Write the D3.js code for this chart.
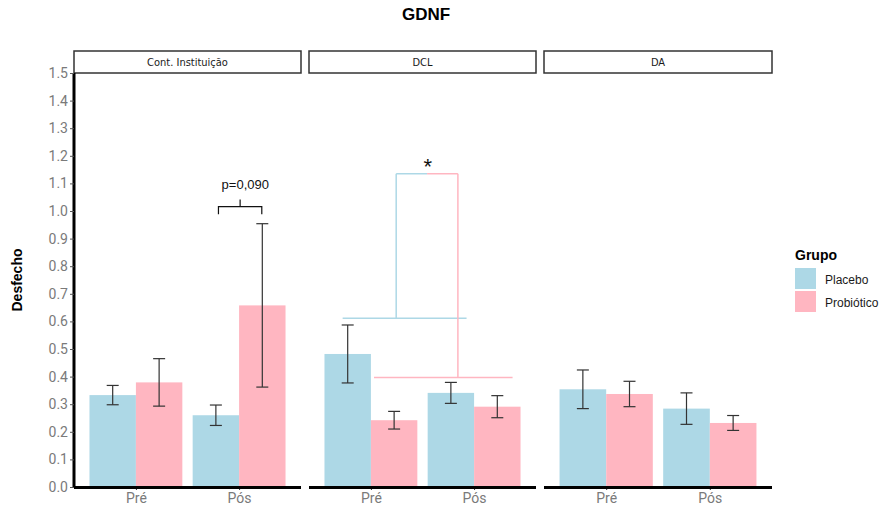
<!DOCTYPE html>
<html><head><meta charset="utf-8">
<script src="https://cdn.jsdelivr.net/npm/d3@7"></script>
<style>body{margin:0;background:#fff}svg{display:block;font-family:"Liberation Sans",Arial,sans-serif}</style>
</head><body><svg id="c" width="882" height="508"></svg>
<script>
const facets = ["Cont. Instituição", "DCL", "DA"];
const times = ["Pré", "Pós"];
const groups = ["Placebo", "Probiótico"];
const colors = ["#ADD8E6", "#FFB6C1"];
// order: facet x time
const placeboMean = [0.333, 0.260, 0.482, 0.341, 0.354, 0.284];
const placeboErr  = [0.035, 0.037, 0.105, 0.038, 0.070, 0.057];
const probioticMean = [0.379, 0.658, 0.242, 0.291, 0.337, 0.232];
const probioticErr  = [0.086, 0.296, 0.032, 0.040, 0.046, 0.027];
const yTicks = d3.range(0, 16).map(i => i / 10);
const pLabel = "p=0,090";
const starLabel = "*";

const svg = d3.select("#c");
const y = d3.scaleLinear().domain([0, 1.5]).range([487, 73]);
const panels = [[74, 301], [309, 536], [544, 772]];

svg.append("text").attr("x", 426).attr("y", 20).attr("text-anchor", "middle")
  .attr("font-weight", "bold").attr("font-size", 17).text("GDNF");

svg.append("text").attr("transform", "translate(22,280) rotate(-90)")
  .attr("text-anchor", "middle").attr("font-weight", "bold").attr("font-size", 14).text("Desfecho");

const means = [placeboMean, probioticMean];
const errs = [placeboErr, probioticErr];

facets.forEach((f, fi) => {
  const [x0, x1] = panels[fi];
  const x = d3.scaleLinear().domain([0.4, 2.6]).range([x0, x1]);
  const g = svg.append("g");
  // strip
  g.append("rect").attr("x", x0).attr("y", 51).attr("width", x1 - x0).attr("height", 22)
    .attr("fill", "#fff").attr("stroke", "#333").attr("stroke-width", 1.5);
  g.append("text").attr("x", (x0 + x1) / 2).attr("y", 66).attr("text-anchor", "middle")
    .attr("font-size", 11).attr("font-family", "'Liberation Sans Narrow','DejaVu Sans Condensed',sans-serif")
    .attr("fill", "#1a1a1a").text(f);
  // bars
  times.forEach((t, ti) => {
    const idx = fi * 2 + ti;
    groups.forEach((gr, gi) => {
      const left = (ti + 1) + (gi === 0 ? -0.45 : 0);
      const m = means[gi][idx], e = errs[gi][idx];
      g.append("rect").attr("x", x(left)).attr("width", x(left + 0.45) - x(left))
        .attr("y", y(m)).attr("height", y(0) - y(m)).attr("fill", colors[gi]);
      const cx = x(left + 0.225);
      const cw = 6;
      const eg = g.append("g").attr("stroke", "#333").attr("stroke-width", 1.2);
      eg.append("line").attr("x1", cx).attr("x2", cx).attr("y1", y(m - e)).attr("y2", y(m + e));
      eg.append("line").attr("x1", cx - cw).attr("x2", cx + cw).attr("y1", y(m - e)).attr("y2", y(m - e));
      eg.append("line").attr("x1", cx - cw).attr("x2", cx + cw).attr("y1", y(m + e)).attr("y2", y(m + e));
    });
  });
  // x axis
  const xa = g.append("g").attr("transform", "translate(0,487)")
    .call(d3.axisBottom(x).tickValues([1, 2]).tickFormat(d => times[d - 1]).tickSize(3).tickPadding(3));
  xa.select(".domain").remove();
  xa.selectAll(".tick line").attr("stroke", "#333");
  xa.selectAll("text").attr("font-size", 14).attr("fill", "#7a7a7a")
    .attr("font-family", "Roboto,'Liberation Sans',sans-serif");
  g.append("line").attr("x1", x0).attr("x2", x1).attr("y1", 487.5).attr("y2", 487.5)
    .attr("stroke", "#000").attr("stroke-width", 3);

  if (fi === 0) {
    const by = y(1.016), tipY = y(0.988), topY = y(1.042);
    const bg = g.append("g").attr("stroke", "#111").attr("stroke-width", 1.2).attr("fill", "none");
    bg.append("path").attr("d", `M${x(1.8)},${tipY}V${by}H${x(2.22)}V${tipY}`);
    bg.append("line").attr("x1", x(2.01)).attr("x2", x(2.01)).attr("y1", by).attr("y2", topY);
    g.append("text").attr("x", x(2.06)).attr("y", 189).attr("text-anchor", "middle")
      .attr("font-size", 13).attr("fill", "#111").text(pLabel);
  }
  if (fi === 1) {
    const blue = colors[0], pink = colors[1], top = 1.135;
    const ag = g.append("g").attr("stroke-width", 1.5).attr("fill", "none");
    ag.append("line").attr("x1", x(0.726)).attr("x2", x(1.927)).attr("y1", y(0.611)).attr("y2", y(0.611)).attr("stroke", blue);
    ag.append("line").attr("x1", x(1.03)).attr("x2", x(2.373)).attr("y1", y(0.397)).attr("y2", y(0.397)).attr("stroke", pink);
    ag.append("line").attr("x1", x(1.245)).attr("x2", x(1.245)).attr("y1", y(0.611)).attr("y2", y(top)).attr("stroke", blue);
    ag.append("line").attr("x1", x(1.843)).attr("x2", x(1.843)).attr("y1", y(0.397)).attr("y2", y(top)).attr("stroke", pink);
    ag.append("line").attr("x1", x(1.245)).attr("x2", x(1.544)).attr("y1", y(top)).attr("y2", y(top)).attr("stroke", blue);
    ag.append("line").attr("x1", x(1.544)).attr("x2", x(1.843)).attr("y1", y(top)).attr("y2", y(top)).attr("stroke", pink);
    g.append("text").attr("x", x(1.55)).attr("y", 174).attr("text-anchor", "middle")
      .attr("font-size", 22).attr("fill", "#111").text(starLabel);
  }
});

// y axis
const ya = svg.append("g").attr("transform", "translate(74,0)")
  .call(d3.axisLeft(y).tickValues(yTicks).tickFormat(d3.format(".1f")).tickSize(4).tickPadding(2));
ya.select(".domain").attr("stroke", "#000").attr("stroke-width", 3).attr("d", `M0,${y(1.5)}V${y(0)}`);
ya.selectAll(".tick line").attr("stroke", "#555");
ya.selectAll("text").attr("font-size", 14).attr("fill", "#7a7a7a")
  .attr("font-family", "Roboto,'Liberation Sans',sans-serif");

// legend
const lg = svg.append("g");
lg.append("text").attr("x", 795).attr("y", 260).attr("font-weight", "bold").attr("font-size", 14).text("Grupo");
groups.forEach((gr, i) => {
  lg.append("rect").attr("x", 795).attr("y", 268 + i * 23).attr("width", 21).attr("height", 21).attr("fill", colors[i]);
  lg.append("text").attr("x", 825).attr("y", 284 + i * 23).attr("font-size", 12).attr("fill", "#1a1a1a").text(gr);
});
</script></body></html>
